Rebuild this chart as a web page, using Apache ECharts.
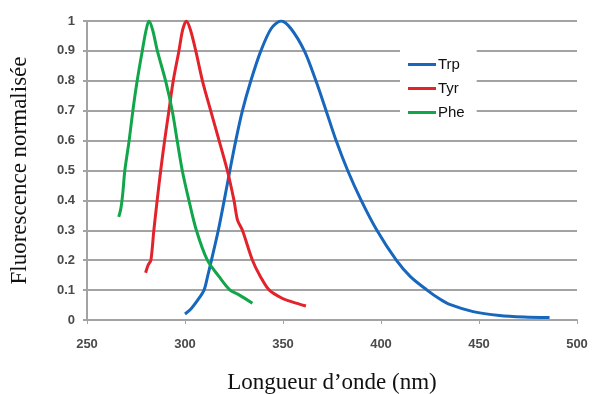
<!DOCTYPE html>
<html>
<head>
<meta charset="utf-8">
<script src="https://cdn.jsdelivr.net/npm/echarts@6/dist/echarts.min.js"></script>
<style>
html,body{margin:0;padding:0;background:#fff;}
#chart{width:592px;height:394px;}
</style>
</head>
<body>
<div id="chart"></div>
<script>
// Data
var seriesNames = ['Trp', 'Tyr', 'Phe'];

var trpX = [300, 303, 306, 309.7, 311.6, 313.5, 317, 320, 322.9, 325.9, 329.3, 333.6, 338.7, 344, 349, 354, 360.9, 366.8, 372, 377.1, 383, 389.9, 397.9, 407.8, 415, 423.5, 430, 435, 447, 460.5, 473, 486];
var trpY = [0.02, 0.037, 0.062, 0.1, 0.148, 0.2, 0.3, 0.4, 0.5, 0.6, 0.7, 0.8, 0.9, 0.975, 1.0, 0.975, 0.9, 0.8, 0.7, 0.6, 0.5, 0.4, 0.3, 0.2, 0.145, 0.1, 0.07, 0.052, 0.028, 0.015, 0.01, 0.008];

var tyrX = [279.9, 281.3, 282.6, 284.1, 285.8, 287.6, 289.6, 291.8, 294, 296.9, 298.8, 300.7, 302.8, 305.5, 308.9, 313.1, 317.4, 321.6, 325, 326.8, 329.3, 334.4, 338.5, 343, 349.8, 355, 361.7];
var tyrY = [0.158, 0.185, 0.2, 0.3, 0.4, 0.5, 0.6, 0.7, 0.8, 0.9, 0.97, 1.0, 0.97, 0.9, 0.8, 0.7, 0.6, 0.5, 0.4, 0.334, 0.3, 0.2, 0.145, 0.1, 0.072, 0.06, 0.047];

var pheX = [266.2, 267.2, 268.2, 269.3, 271.5, 273.4, 275.6, 278.2, 280, 281.6, 283.5, 285.9, 290.1, 293.5, 296, 298.6, 302, 305.8, 311.4, 317.4, 323, 327.6, 334.4];
var pheY = [0.345, 0.37, 0.42, 0.5, 0.6, 0.7, 0.8, 0.9, 0.965, 1.0, 0.97, 0.9, 0.8, 0.7, 0.6, 0.5, 0.4, 0.3, 0.2, 0.145, 0.1, 0.084, 0.056];

var xTicks = [250, 300, 350, 400, 450, 500];
var yTicks = [0, 0.1, 0.2, 0.3, 0.4, 0.5, 0.6, 0.7, 0.8, 0.9, 1];

var colors = ['#1767bd', '#e3232c', '#12a64a'];

function pairs(xs, ys) {
  var out = [];
  for (var i = 0; i < xs.length; i++) out.push([xs[i], ys[i]]);
  return out;
}

var chart = echarts.init(document.getElementById('chart'), null, {renderer: 'canvas'});

var gridColor = '#a3a3a3';
var labelStyle = {fontFamily: 'Liberation Sans, Arial', fontSize: 13, fontWeight: 'bold', color: '#4a4a4a'};

var option = {
  animation: false,
  backgroundColor: '#fff',
  color: colors,
  grid: {left: 87, right: 15, top: 21, bottom: 74, containLabel: false, outerBoundsMode: 'none'},
  legend: {
    orient: 'vertical',
    left: 400,
    top: 42,
    padding: [15, 12, 10, 8],
    backgroundColor: '#fff',
    itemWidth: 28,
    itemHeight: 3,
    itemGap: 9,
    icon: 'rect',
    data: seriesNames,
    textStyle: {fontFamily: 'Liberation Sans, Arial', fontSize: 15, color: '#111', padding: [0, 0, 0, -3]}
  },
  xAxis: {
    type: 'value',
    min: xTicks[0],
    max: xTicks[xTicks.length - 1],
    interval: 50,
    name: 'Longueur d\u2019onde (nm)',
    nameLocation: 'middle',
    nameGap: 51,
    nameTextStyle: {fontFamily: 'Liberation Serif, Times New Roman', fontSize: 23, color: '#111'},
    axisLine: {show: true, lineStyle: {color: gridColor, width: 2}},
    axisTick: {show: true, length: 4, lineStyle: {color: gridColor, width: 1}},
    axisLabel: Object.assign({margin: 18}, labelStyle),
    splitLine: {show: false}
  },
  yAxis: {
    type: 'value',
    min: yTicks[0],
    max: yTicks[yTicks.length - 1],
    interval: 0.1,
    name: 'Fluorescence normalis\u00e9e',
    nameLocation: 'middle',
    nameGap: 56,
    nameTextStyle: {fontFamily: 'Liberation Serif, Times New Roman', fontSize: 23, color: '#111'},
    axisLine: {show: true, lineStyle: {color: gridColor, width: 2}},
    axisTick: {show: true, length: 4, lineStyle: {color: gridColor, width: 2}},
    axisLabel: Object.assign({margin: 12}, labelStyle),
    splitLine: {show: true, lineStyle: {color: gridColor, width: 2}}
  },
  series: [
    {name: seriesNames[0], type: 'line', data: pairs(trpX, trpY), smooth: 0.3, showSymbol: false, lineStyle: {width: 3}, z: 3},
    {name: seriesNames[1], type: 'line', data: pairs(tyrX, tyrY), smooth: 0.3, showSymbol: false, lineStyle: {width: 3}, z: 4},
    {name: seriesNames[2], type: 'line', data: pairs(pheX, pheY), smooth: 0.3, showSymbol: false, lineStyle: {width: 3}, z: 5}
  ]
};
chart.setOption(option);

// extend the vertical axis line above the top gridline as in the reference
var top = chart.convertToPixel({gridIndex: 0}, [xTicks[0], yTicks[yTicks.length - 1]]);
chart.setOption({
  graphic: [{
    type: 'line',
    shape: {x1: top[0], y1: top[1] - 17, x2: top[0], y2: top[1]},
    style: {stroke: gridColor, lineWidth: 2},
    silent: true
  }]
});
</script>
</body>
</html>
